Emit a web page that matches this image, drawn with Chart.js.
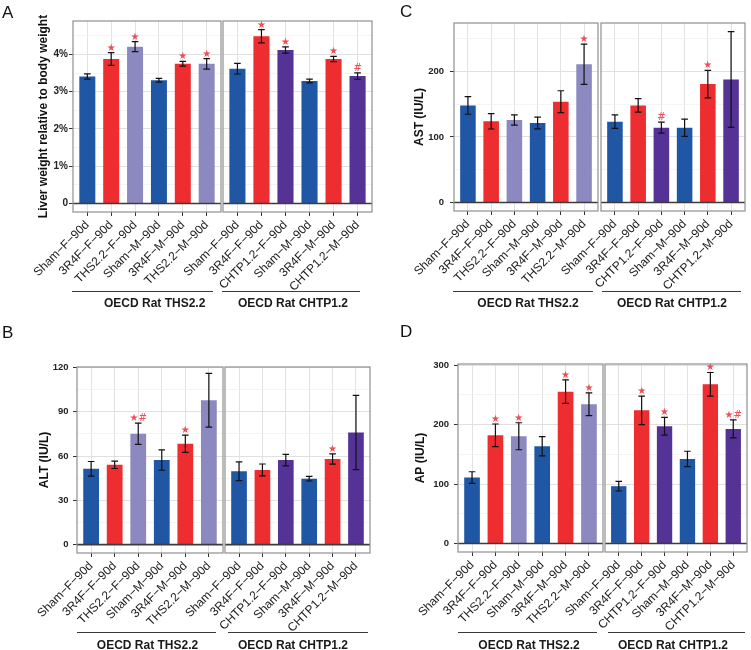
<!DOCTYPE html>
<html><head><meta charset="utf-8">
<script src="https://cdn.jsdelivr.net/npm/chart.js@4.4.1/dist/chart.umd.min.js"></script>
<style>
body{margin:0;background:#fff;width:751px;height:650px;overflow:hidden;position:relative;font-family:"Liberation Sans",Arial,sans-serif;}
canvas{position:absolute;}
.flbl{position:absolute;font-weight:bold;font-size:12px;color:#1a1a1a;white-space:nowrap;transform:translate(-50%,-50%);line-height:14px;}
.fline{position:absolute;height:1px;background:#3a3a3a;}
.letter{position:absolute;font-size:17px;line-height:17px;color:#111;}
</style></head><body>
<script>
// ---------- categories ----------
const labelsTHS  = ['Sham−F−90d','3R4F−F−90d','THS2.2−F−90d','Sham−M−90d','3R4F−M−90d','THS2.2−M−90d'];
const labelsCHTP = ['Sham−F−90d','3R4F−F−90d','CHTP1.2−F−90d','Sham−M−90d','3R4F−M−90d','CHTP1.2−M−90d'];
const facetNames = ['OECD Rat THS2.2','OECD Rat CHTP1.2'];
const panelLetters = ['A','B','C','D'];

// ---------- Panel A: liver weight relative to body weight (%) ----------
const liverTHS      = [3.41, 3.88, 4.21, 3.31, 3.75, 3.75];
const liverTHSErr   = [0.07, 0.17, 0.135, 0.05, 0.063, 0.14];
const liverTHSSig   = ['', '★', '★', '', '★', '★'];
const liverCHTP     = [3.62, 4.49, 4.12, 3.29, 3.88, 3.42];
const liverCHTPErr  = [0.143, 0.18, 0.085, 0.05, 0.072, 0.085];
const liverCHTPSig  = ['', '★', '★', '', '★', '#'];
const yTicksA = [0, 1, 2, 3, 4];
const yTickLabelsA = ['0', '1%', '2%', '3%', '4%'];
const yMinorA = [0.5, 1.5, 2.5, 3.5, 4.5];

// ---------- Panel B: ALT (IU/L) ----------
const altTHS      = [51.4, 54.1, 75.1, 57.3, 68.4, 97.9];
const altTHSErr   = [4.95, 2.5, 7.2, 6.9, 5.85, 18.2];
const altTHSSig   = ['', '', '★#', '', '★', ''];
const altCHTP     = [49.7, 50.6, 57.3, 44.7, 58.0, 76.0];
const altCHTPErr  = [6.4, 4.05, 3.9, 1.6, 3.45, 25.2];
const altCHTPSig  = ['', '', '', '', '★', ''];
const yTicksB = [0, 30, 60, 90, 120];
const yTickLabelsB = ['0', '30', '60', '90', '120'];
const yMinorB = [15, 45, 75, 105];

// ---------- Panel C: AST (IU/L) ----------
const astTHS      = [148.2, 123.9, 125.9, 121.3, 153.8, 211.0];
const astTHSErr   = [13.5, 11.75, 7.85, 8.9, 16.75, 30.7];
const astTHSSig   = ['', '', '', '', '', '★'];
const astCHTP     = [123.4, 148.2, 114.2, 114.2, 180.7, 187.8];
const astCHTPErr  = [10.4, 10.4, 8.4, 13.2, 21.0, 73.0];
const astCHTPSig  = ['', '', '#', '', '★', ''];
const yTicksC = [0, 100, 200];
const yTickLabelsC = ['0', '100', '200'];
const yMinorC = [50, 150, 250];

// ---------- Panel D: AP (IU/L) ----------
const apTHS      = [110.9, 182.0, 180.4, 163.6, 255.5, 234.2];
const apTHSErr   = [9.8, 19.0, 22.7, 16.25, 19.9, 19.05];
const apTHSSig   = ['', '★', '★', '', '★', '★'];
const apCHTP     = [96.4, 224.0, 197.2, 142.3, 267.8, 192.7];
const apCHTPErr  = [8.1, 24.1, 14.85, 12.85, 19.9, 15.1];
const apCHTPSig  = ['', '★', '★', '', '★', '★#'];
const yTicksD = [0, 100, 200, 300];
const yTickLabelsD = ['0', '100', '200', '300'];
const yMinorD = [50, 150, 250];

// ---------- styling ----------
const BLUE = '#2057a5', RED = '#ed2d2f', LPUR = '#8c88c0', DPUR = '#543296';
const colorsTHS  = [BLUE, RED, LPUR, BLUE, RED, LPUR];
const colorsCHTP = [BLUE, RED, DPUR, BLUE, RED, DPUR];
const FONT = '"Liberation Sans", Arial, sans-serif';

const panels = [
  { letter: 'A', letterPos: [2, 4], title: 'Liver weight relative to body weight',
    y0: 21, y1: 212, xs: [[73, 221], [223, 372]], ymin: -0.23, ymax: 4.9,
    major: yTicksA, majorLabels: yTickLabelsA, minor: yMinorA, yw: 37, tpad: 1, tfont: 10,
    lineY: 291, lines: [[72, 213], [222, 360]], lblY: 303, lblX: [154.7, 293],
    facets: [
      { labels: labelsTHS, colors: colorsTHS, means: liverTHS, errs: liverTHSErr, sig: liverTHSSig },
      { labels: labelsCHTP, colors: colorsCHTP, means: liverCHTP, errs: liverCHTPErr, sig: liverCHTPSig } ] },
  { letter: 'B', letterPos: [2, 324], title: 'ALT (IU/L)',
    y0: 367, y1: 553, xs: [[77, 223], [225, 370]], ymin: -5.7, ymax: 120.4,
    major: yTicksB, majorLabels: yTickLabelsB, minor: yMinorB, yw: 40, tpad: 4.5, tfont: 9.5,
    lineY: 632, lines: [[77, 216], [228, 368]], lblY: 645, lblX: [147.5, 293],
    facets: [
      { labels: labelsTHS, colors: colorsTHS, means: altTHS, errs: altTHSErr, sig: altTHSSig },
      { labels: labelsCHTP, colors: colorsCHTP, means: altCHTP, errs: altCHTPErr, sig: altCHTPSig } ] },
  { letter: 'C', letterPos: [400, 3], title: 'AST (IU/L)',
    y0: 23, y1: 211, xs: [[454, 598], [601, 745]], ymin: -13, ymax: 274,
    major: yTicksC, majorLabels: yTickLabelsC, minor: yMinorC, yw: 42, tpad: 6, tfont: 9.5,
    lineY: 291, lines: [[453, 593], [602, 741]], lblY: 303, lblX: [528, 672],
    facets: [
      { labels: labelsTHS, colors: colorsTHS, means: astTHS, errs: astTHSErr, sig: astTHSSig },
      { labels: labelsCHTP, colors: colorsCHTP, means: astCHTP, errs: astCHTPErr, sig: astCHTPSig } ] },
  { letter: 'D', letterPos: [400, 323], title: 'AP (IU/L)',
    y0: 364, y1: 552, xs: [[458, 603], [605, 747]], ymin: -14.4, ymax: 302,
    major: yTicksD, majorLabels: yTickLabelsD, minor: yMinorD, yw: 45, tpad: 5, tfont: 9.5,
    lineY: 632, lines: [[458, 597], [608, 745]], lblY: 645, lblX: [529, 673],
    facets: [
      { labels: labelsTHS, colors: colorsTHS, means: apTHS, errs: apTHSErr, sig: apTHSSig },
      { labels: labelsCHTP, colors: colorsCHTP, means: apCHTP, errs: apCHTPErr, sig: apCHTPSig } ] }
];

function facetPlugin(f) {
  return {
    id: 'facetDeco',
    afterDatasetsDraw(chart) {
      const ctx = chart.ctx, ys = chart.scales.y, meta = chart.getDatasetMeta(0);
      const { left, right, top, bottom } = chart.chartArea;
      ctx.save();
      // zero reference line
      const yz = ys.getPixelForValue(0);
      ctx.strokeStyle = '#3c3c3c'; ctx.lineWidth = 1.6;
      ctx.beginPath(); ctx.moveTo(left, yz); ctx.lineTo(right, yz); ctx.stroke();
      // error bars and significance marks
      ctx.strokeStyle = '#111'; ctx.lineWidth = 1.2;
      f.means.forEach((m, i) => {
        const x = meta.data[i].x;
        const yh = ys.getPixelForValue(m + f.errs[i]);
        const yl = ys.getPixelForValue(m - f.errs[i]);
        ctx.beginPath();
        ctx.moveTo(x, yh); ctx.lineTo(x, yl);
        ctx.moveTo(x - 3.3, yh); ctx.lineTo(x + 3.3, yh);
        ctx.moveTo(x - 3.3, yl); ctx.lineTo(x + 3.3, yl);
        ctx.stroke();
        if (f.sig[i]) {
          ctx.fillStyle = '#f04c57';
          ctx.font = '10px "DejaVu Sans", sans-serif';
          ctx.textAlign = 'center'; ctx.textBaseline = 'alphabetic';
          ctx.fillText(f.sig[i], x, yh - 2);
        }
      });
      // panel border
      ctx.strokeStyle = '#8f8f8f'; ctx.lineWidth = 1.2;
      ctx.strokeRect(left, top, right - left, bottom - top);
      ctx.restore();
    }
  };
}

const PADL = 64, PADR = 4, PADT = 16, XH = 86;

function makeFacet(p, side) {
  const f = p.facets[side];
  const [x0, x1] = p.xs[side];
  const cv = document.createElement('canvas');
  const cl = x0 - PADL, ct = p.y0 - PADT;
  const cw = (x1 - x0) + PADL + PADR, ch = (p.y1 - p.y0) + PADT + XH;
  cv.width = cw; cv.height = ch;
  cv.style.left = cl + 'px'; cv.style.top = ct + 'px';
  cv.style.width = cw + 'px'; cv.style.height = ch + 'px';
  document.body.appendChild(cv);
  const isLeft = side === 0;
  const majorSet = new Set(p.major);
  const allTicks = p.major.concat(p.minor).sort((a, b) => a - b);
  const catIdx = f.labels.map((_, i) => i + 1);
  new Chart(cv, {
    type: 'bar',
    data: { datasets: [{
      data: f.means.map((v, i) => ({ x: catIdx[i], y: v })),
      backgroundColor: f.colors, borderWidth: 0,
      categoryPercentage: 1, barPercentage: 0.67
    }] },
    options: {
      responsive: false, animation: false, events: [],
      layout: { padding: { left: isLeft ? PADL - p.yw : PADL, right: PADR, top: PADT, bottom: 0 } },
      plugins: { legend: { display: false }, tooltip: { enabled: false } },
      scales: {
        x: {
          type: 'linear', min: 0.4, max: 6.6, offset: false,
          afterBuildTicks: s => { s.ticks = catIdx.map(v => ({ value: v })); },
          afterFit: s => { s.height = XH; },
          ticks: { autoSkip: false, minRotation: 45, maxRotation: 45, padding: 2,
                   font: { family: FONT, size: 12 }, color: '#1a1a1a',
                   callback: v => f.labels[Math.round(v) - 1] },
          grid: { offset: false, color: '#e2e2e2', lineWidth: 1, tickLength: 4, tickColor: '#333', drawTicks: true },
          border: { display: false }
        },
        y: {
          type: 'linear', min: p.ymin, max: p.ymax,
          afterBuildTicks: s => { s.ticks = allTicks.map(v => ({ value: v })); },
          afterFit: s => { s.width = isLeft ? p.yw : 0; },
          ticks: { display: isLeft, padding: p.tpad,
                   font: { family: FONT, size: p.tfont, weight: 'bold' }, color: '#222',
                   callback: v => { const k = p.major.indexOf(v); return k >= 0 ? p.majorLabels[k] : ''; } },
          grid: {
            color: c => majorSet.has(c.tick.value) ? '#e0e0e0' : '#efefef',
            lineWidth: c => majorSet.has(c.tick.value) ? 1 : 0.7,
            drawTicks: isLeft, tickLength: 4,
            tickColor: c => majorSet.has(c.tick.value) ? '#333' : 'rgba(0,0,0,0)'
          },
          border: { display: false },
          title: { display: isLeft, text: p.title, color: '#111',
                   font: { family: FONT, size: 12, weight: 'bold' }, padding: { top: 0, bottom: 0 } }
        }
      }
    },
    plugins: [facetPlugin(f)]
  });
}

function addDiv(cls, text, x, y, w) {
  const d = document.createElement('div');
  d.className = cls;
  if (text) d.textContent = text;
  d.style.left = x + 'px'; d.style.top = y + 'px';
  if (w !== undefined) d.style.width = w + 'px';
  document.body.appendChild(d);
}

panels.forEach(p => {
  makeFacet(p, 0);
  makeFacet(p, 1);
  addDiv('letter', p.letter, p.letterPos[0], p.letterPos[1]);
  p.lines.forEach(([a, b]) => addDiv('fline', '', a, p.lineY, b - a));
  facetNames.forEach((n, i) => addDiv('flbl', n, p.lblX[i], p.lblY));
});
</script>
</body></html>
